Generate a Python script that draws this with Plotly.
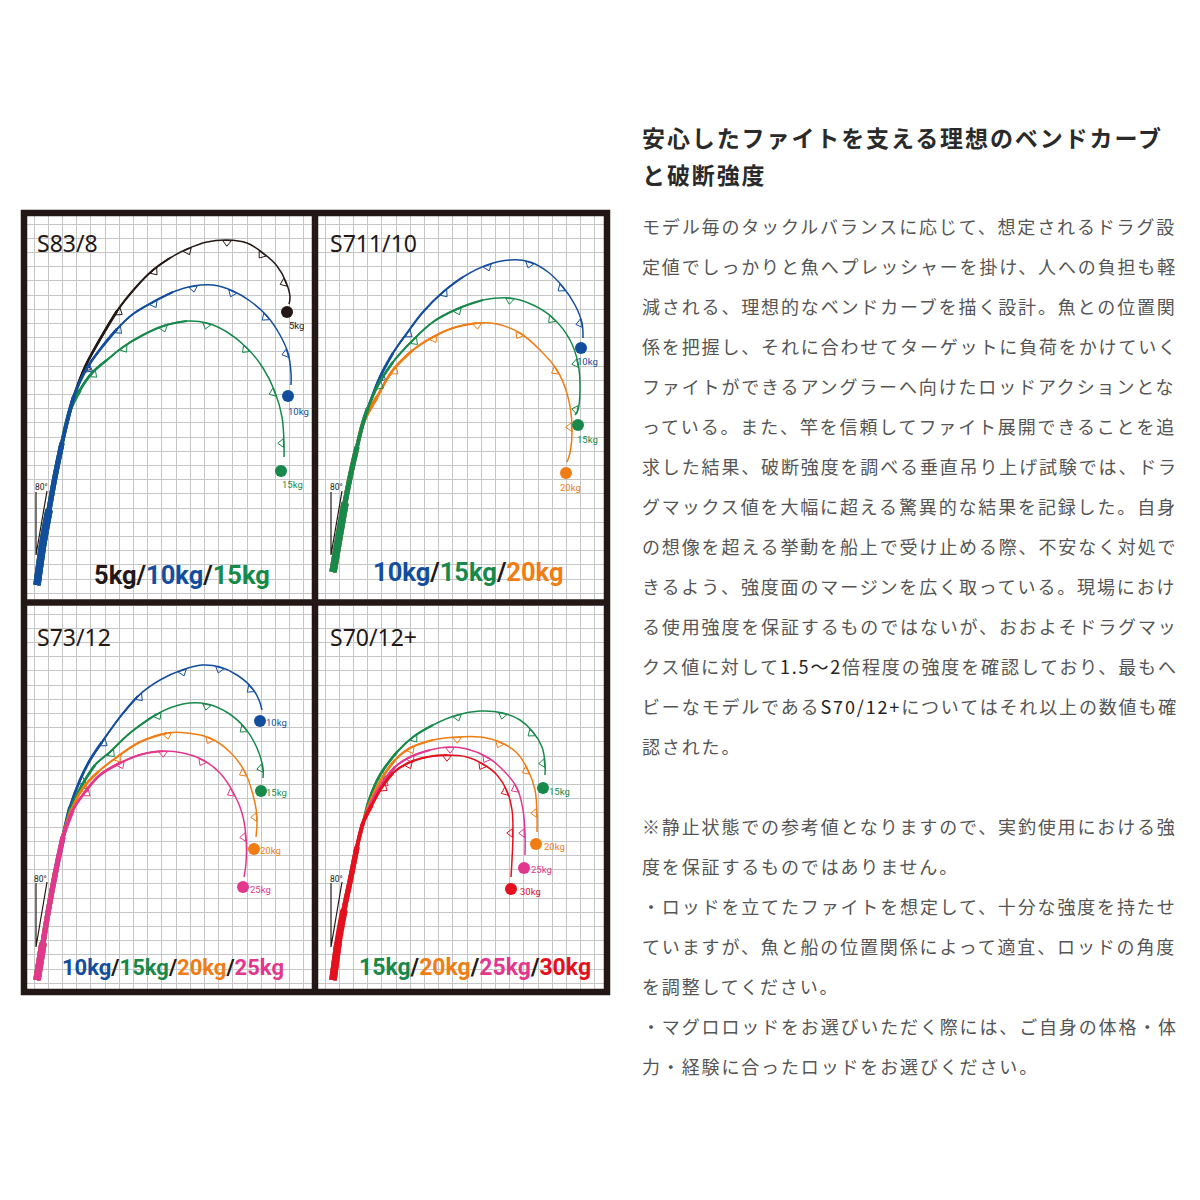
import numpy as np
import plotly.graph_objects as go

W, H = 1200, 1200
PAGE_SHIFT = 8  # the page body has an 8px margin
GRID = 14.2  # graph paper cell, px

INK = '#231815'
BLUE = '#124e9d'
GREEN = '#17894a'
ORANGE = '#ef7d13'
PINK = '#e3378d'
RED = '#e5101d'
GRID_COLOR = '#c6c6c6'

# rod bend curves (panel px, origin = bottom-left of panel)
# --- S83/8 ---
S83_TRUNK = [(10, 14), (16, 56), (22, 89), (28, 122), (35, 156), (43, 189)]
S83_5KG = [(47, 203), (58, 232), (72, 258), (90, 288), (110, 313), (126, 329), (143, 341), (160, 350),
           (180, 357), (200, 359), (220, 356), (236, 346), (250, 333), (259, 317), (263, 302), (262, 295)]
S83_10KG = [(47, 203), (60, 231), (75, 252), (90, 270), (106, 285), (126, 297), (146, 307), (166, 313),
            (186, 314), (206, 308), (223, 298), (240, 283), (253, 264), (261, 246), (264, 226), (264, 214)]
S83_15KG = [(53, 209), (65, 226), (80, 239), (96, 252), (116, 264), (136, 273), (160, 278), (180, 276),
            (200, 267), (220, 251), (236, 231), (248, 207), (255, 182), (257, 156), (257, 142)]
S83_TIPS = [(260, 287), (261, 203), (254, 128)]
S83_TAGS = [(269, 274), (271, 188), (265, 115)]

# --- S711/10 ---
S711_TRUNK = [(15, 27), (21, 62), (27, 96), (33, 126), (39, 152), (45, 176)]
S711_10KG = [(50, 191), (62, 222), (75, 246), (89, 266), (105, 287), (125, 307), (145, 322), (169, 334),
             (192, 339), (212, 337), (230, 327), (245, 312), (257, 294), (264, 276), (265, 261)]
S711_15KG = [(50, 191), (60, 214), (75, 237), (95, 259), (115, 277), (139, 290), (165, 299), (192, 301),
             (215, 294), (235, 281), (252, 259), (260, 236), (262, 212), (260, 189), (257, 184)]
S711_20KG = [(59, 202), (75, 229), (95, 249), (115, 262), (135, 271), (159, 276), (179, 275), (202, 266),
             (222, 249), (239, 229), (250, 202), (254, 172), (252, 146), (249, 137)]
S711_TIPS = [(263, 251), (260, 174), (248, 126)]
S711_TAGS = [(269, 238), (269, 160), (252, 112)]

# --- S73/12 ---
S73_TRUNK = [(10, 9), (16, 46), (22, 82), (29, 119), (36, 152)]
S73_10KG = [(43, 182), (53, 209), (63, 229), (75, 247), (93, 272), (111, 293), (133, 309), (155, 319),
            (175, 324), (193, 322), (210, 314), (225, 301), (232, 289), (235, 279)]
S73_15KG = [(44, 181), (55, 204), (68, 224), (83, 237), (103, 256), (130, 275), (156, 285), (180, 285),
            (201, 276), (218, 261), (230, 241), (236, 221), (236, 211)]
S73_20KG = [(45, 180), (56, 201), (71, 217), (90, 232), (113, 247), (140, 256), (160, 256), (183, 251),
            (203, 237), (218, 217), (226, 194), (230, 172), (229, 152)]
S73_25KG = [(46, 179), (58, 197), (73, 214), (93, 226), (116, 235), (136, 238), (156, 236), (176, 229),
            (193, 216), (206, 197), (215, 176), (219, 152), (219, 126), (217, 112)]
S73_TIPS = [(233, 268), (234, 198), (227, 140), (216, 102)]
S73_TAGS = [(249, 267), (249, 197), (243, 139), (233, 100)]

# --- S70/12+ ---
S70_TRUNK = [(15, 9), (20, 46), (26, 79), (33, 112), (39, 142), (45, 166)]
S70_15KG = [(51, 189), (62, 214), (79, 237), (95, 252), (115, 264), (139, 274), (162, 278), (185, 276),
            (202, 269), (215, 257), (224, 242), (227, 226), (227, 214)]
S70_20KG = [(52, 187), (64, 211), (77, 229), (92, 241), (115, 249), (139, 252), (162, 252), (182, 247),
            (199, 236), (210, 219), (217, 199), (219, 176), (219, 157)]
S70_25KG = [(53, 186), (65, 207), (77, 222), (92, 232), (112, 239), (132, 242), (149, 240), (169, 232),
            (185, 219), (199, 201), (205, 179), (207, 156), (207, 134)]
S70_30KG = [(54, 184), (64, 202), (75, 216), (90, 226), (109, 232), (129, 234), (149, 232), (165, 225),
            (179, 214), (189, 198), (194, 179), (195, 156), (194, 129), (193, 112)]
S70_TIPS = [(225, 201), (218, 145), (206, 121), (193, 100)]
S70_TAGS = [(241, 198), (236, 143), (223, 120), (212, 98)]

# 80 degree reference (vertical top, apex, slanted top) and its label
S83_ANGLE = [(9, 107), (9, 44), (20, 108)]
S711_ANGLE = [(13, 107), (13, 44), (24, 108)]
S73_ANGLE = [(9, 106), (9, 42), (20, 107)]
S70_ANGLE = [(13, 106), (13, 42), (24, 107)]
ANGLE_TXT = [(14, 112), (18, 112), (13, 110), (18, 110)]

PANEL_NAMES = ['S83/8', 'S711/10', 'S73/12', 'S70/12+']
PANEL_LOADS = [['5kg', '10kg', '15kg'], ['10kg', '15kg', '20kg'],
               ['10kg', '15kg', '20kg', '25kg'], ['15kg', '20kg', '25kg', '30kg']]
PANEL_COLORS = [[INK, BLUE, GREEN], [BLUE, GREEN, ORANGE],
                [BLUE, GREEN, ORANGE, PINK], [GREEN, ORANGE, PINK, RED]]
DRAW_ORDER = [[0, 2, 1], [0, 2, 1], [0, 1, 2, 3], [0, 1, 2, 3]]

panels = [
    (S83_TRUNK, [S83_5KG, S83_10KG, S83_15KG], S83_TIPS, S83_TAGS, S83_ANGLE),
    (S711_TRUNK, [S711_10KG, S711_15KG, S711_20KG], S711_TIPS, S711_TAGS, S711_ANGLE),
    (S73_TRUNK, [S73_10KG, S73_15KG, S73_20KG, S73_25KG], S73_TIPS, S73_TAGS, S73_ANGLE),
    (S70_TRUNK, [S70_15KG, S70_20KG, S70_25KG, S70_30KG], S70_TIPS, S70_TAGS, S70_ANGLE),
]

# page layout (px)
PANEL_BOX = [(27, 312, 216, 599), (318, 604, 216, 599), (27, 312, 606, 989), (318, 604, 606, 989)]
TITLE_POS = [(8, 356), (10, 356), (8, 352), (10, 352)]
LOAD_TEXT_POS = [(155, 24), (150, 27), (146, 22), (157, 22)]
LOAD_TEXT_SIZE = [25.5, 25.5, 22, 23]

# (fraction of the rod from the butt, line width)
TAPER = [(1.0, 1.5), (0.6, 2.0), (0.45, 2.7), (0.34, 3.8), (0.24, 5.2), (0.13, 7.5)]

HEADING = ['安心したファイトを支える理想のベンドカーブ', 'と破断強度']
BODY = [
    'モデル毎のタックルバランスに応じて、想定されるドラグ設',
    '定値でしっかりと魚へプレッシャーを掛け、人への負担も軽',
    '減される、理想的なベンドカーブを描く設計。魚との位置関',
    '係を把握し、それに合わせてターゲットに負荷をかけていく',
    'ファイトができるアングラーへ向けたロッドアクションとな',
    'っている。また、竿を信頼してファイト展開できることを追',
    '求した結果、破断強度を調べる垂直吊り上げ試験では、ドラ',
    'グマックス値を大幅に超える驚異的な結果を記録した。自身',
    'の想像を超える挙動を船上で受け止める際、不安なく対処で',
    'きるよう、強度面のマージンを広く取っている。現場におけ',
    'る使用強度を保証するものではないが、おおよそドラグマッ',
    'クス値に対して<span style="color:#222">1.5～2</span>倍程度の強度を確認しており、最もへ',
    'ビーなモデルである<span style="color:#222">S70/12+</span>についてはそれ以上の数値も確',
    '認された。',
]
NOTES = [
    '※静止状態での参考値となりますので、実釣使用における強',
    '度を保証するものではありません。',
    '・ロッドを立てたファイトを想定して、十分な強度を持たせ',
    'ていますが、魚と船の位置関係によって適宜、ロッドの角度',
    'を調整してください。',
    '・マグロロッドをお選びいただく際には、ご自身の体格・体',
    '力・経験に合ったロッドをお選びください。',
]


def fx(x):
    return (x - PAGE_SHIFT) / W


def fy(y):
    return 1 - (y - PAGE_SHIFT) / H


fig = go.Figure()
annotations = []
axes = {}

axis_style = dict(showgrid=True, gridcolor=GRID_COLOR, gridwidth=1, dtick=GRID,
                  showticklabels=False, ticks='', zeroline=False, showline=False, fixedrange=True)

for k in range(4):
    l, r, t, b = PANEL_BOX[k]
    sx = '' if k == 0 else str(k + 1)
    xr, yr = 'x' + sx, 'y' + sx
    axes['xaxis' + sx] = dict(domain=[fx(l), fx(r)], range=[0, r - l], anchor=yr, tick0=7, **axis_style)
    axes['yaxis' + sx] = dict(domain=[fy(b), fy(t)], range=[0, b - t], anchor=xr, tick0=5.8, **axis_style)

    trunk, curves, tips, tags, angle = panels[k]
    loads, colors = PANEL_LOADS[k], PANEL_COLORS[k]

    # 80 degree reference lines
    fig.add_trace(go.Scatter(x=[p[0] for p in angle], y=[p[1] for p in angle], mode='lines',
                             line=dict(color=INK, width=1.2), xaxis=xr, yaxis=yr,
                             hoverinfo='skip', showlegend=False))
    annotations.append(dict(xref=xr, yref=yr, x=ANGLE_TXT[k][0], y=ANGLE_TXT[k][1], text='80°',
                            showarrow=False, font=dict(family='Roboto', size=8.5, color=INK),
                            xanchor='center', yanchor='middle'))

    for i in DRAW_ORDER[k]:
        pts = trunk + curves[i]
        xs = np.array([p[0] for p in pts], float)
        ys = np.array([p[1] for p in pts], float)
        n = len(pts)
        col = colors[i]
        for frac, w in TAPER:
            m = max(2, int(round(n * frac)))
            fig.add_trace(go.Scatter(x=xs[:m], y=ys[:m], mode='lines',
                                     line=dict(color=col, width=w, shape='spline', smoothing=1.0),
                                     xaxis=xr, yaxis=yr, hoverinfo='skip', showlegend=False))
        # line guides on the rod, hanging to the inside of the bend
        idx = np.arange(len(trunk) + 1, n - 1, 2)
        gx, gy, ga = [], [], []
        for j in idx:
            th = np.arctan2(ys[j + 1] - ys[j - 1], xs[j + 1] - xs[j - 1])
            gx.append(xs[j] + 2.5 * np.sin(th))
            gy.append(ys[j] - 2.5 * np.cos(th))
            ga.append(-np.degrees(th))
        fig.add_trace(go.Scatter(x=gx, y=gy, mode='markers',
                                 marker=dict(symbol='triangle-down-open', size=7.5, angle=ga,
                                             color=col, line=dict(color=col, width=1)),
                                 xaxis=xr, yaxis=yr, hoverinfo='skip', showlegend=False))

    # sinker balls at the tips and their loads
    for i in range(len(loads)):
        fig.add_trace(go.Scatter(x=[tips[i][0]], y=[tips[i][1]], mode='markers',
                                 marker=dict(size=12, color=colors[i]),
                                 xaxis=xr, yaxis=yr, hoverinfo='skip', showlegend=False))
        annotations.append(dict(xref=xr, yref=yr, x=tags[i][0], y=tags[i][1], text=loads[i],
                                showarrow=False, font=dict(family='Roboto', size=9.5, color=colors[i]),
                                xanchor='center', yanchor='middle'))

    annotations.append(dict(xref=xr, yref=yr, x=TITLE_POS[k][0], y=TITLE_POS[k][1], text=PANEL_NAMES[k],
                            showarrow=False, font=dict(family='Noto Sans', size=23, color=INK),
                            xanchor='left', yanchor='middle'))
    parts = ['<span style="color:%s">%s</span>' % (c, s) for s, c in zip(loads, colors)]
    annotations.append(dict(xref=xr, yref=yr, x=LOAD_TEXT_POS[k][0], y=LOAD_TEXT_POS[k][1],
                            text='/'.join(parts), showarrow=False,
                            font=dict(family='Roboto', size=LOAD_TEXT_SIZE[k], color=INK, weight='bold'),
                            xanchor='center', yanchor='middle'))

# right-hand text
JP = 'Noto Sans CJK JP'
for j, line in enumerate(HEADING):
    annotations.append(dict(xref='paper', yref='paper', x=fx(640), y=fy(137 + 37 * j),
                            text='<span style="letter-spacing:1.9px">%s</span>' % line, showarrow=False,
                            font=dict(family=JP, size=23, color='#2a2a2a', weight='bold'),
                            xanchor='left', yanchor='middle'))
for j, line in enumerate(BODY + [''] + NOTES):
    if not line:
        continue
    annotations.append(dict(xref='paper', yref='paper', x=fx(640), y=fy(226 + 40 * j),
                            text='<span style="letter-spacing:1.85px">%s</span>' % line, showarrow=False,
                            font=dict(family=JP, size=18, color='#555555'),
                            xanchor='left', yanchor='middle'))

# black frame around and between the four panels
frame = dict(type='line', xref='paper', yref='paper', line=dict(color=INK, width=6.5), layer='above')
shapes = [
    dict(type='rect', xref='paper', yref='paper', x0=fx(24), x1=fx(607), y0=fy(213), y1=fy(992),
         line=dict(color=INK, width=6.5), layer='above'),
    dict(frame, x0=fx(315), x1=fx(315), y0=fy(210), y1=fy(995)),
    dict(frame, x0=fx(21), x1=fx(610), y0=fy(602.5), y1=fy(602.5)),
]

fig.update_layout(width=W, height=H, margin=dict(l=0, r=0, t=0, b=0),
                  paper_bgcolor='white', plot_bgcolor='white',
                  annotations=annotations, shapes=shapes, **axes)

fig.write_html('out.html')
